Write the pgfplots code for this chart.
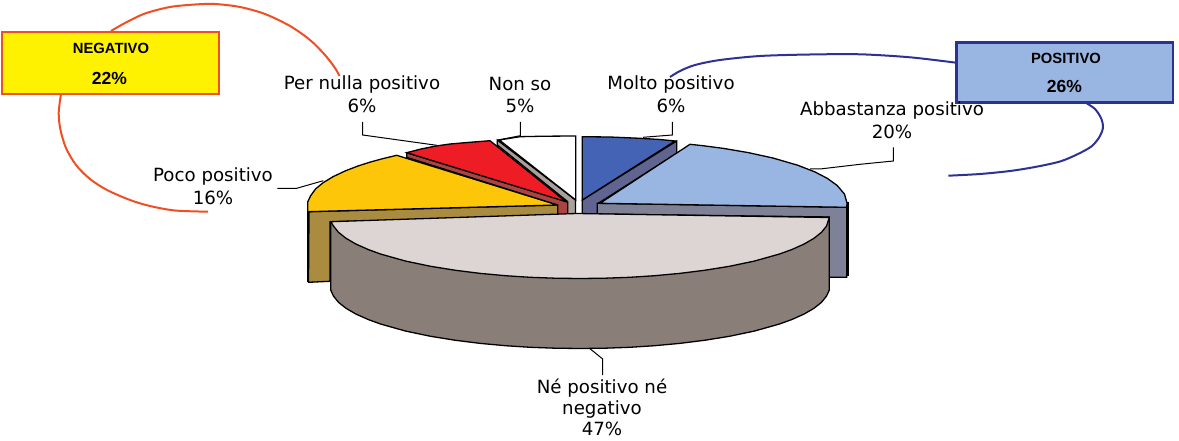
\documentclass[border=0pt]{standalone}
\usepackage{fontspec}
\setmainfont{DejaVu Sans}
\newfontfamily\boxfont{Liberation Sans}[BoldFont={Liberation Sans Bold}]
\usepackage{pgfplots}
\pgfplotsset{compat=1.18}
\definecolor{yt}{HTML}{FDC608}
\definecolor{yw}{HTML}{AA8C41}
\definecolor{rt}{HTML}{EE1C25}
\definecolor{rw}{HTML}{A94442}
\definecolor{gw}{HTML}{A9A19C}
\definecolor{bt}{HTML}{4563B5}
\definecolor{bw}{HTML}{5F6490}
\definecolor{lt}{HTML}{99B5E1}
\definecolor{lw}{HTML}{7F8296}
\definecolor{nt}{HTML}{DDD5D3}
\definecolor{nw}{HTML}{8A7E79}
\definecolor{ob}{HTML}{F04E23}
\definecolor{db}{HTML}{2E3192}
\definecolor{by}{HTML}{FFF200}
\newcommand{\lab}[3]{\node[font=\fontsize{18.2}{20}\selectfont,inner sep=0pt,text=black] at (axis cs:#1,#2) {#3};}
\begin{document}
\begin{tikzpicture}
\begin{axis}[scale only axis,width=1179pt,height=441pt,xmin=0,xmax=1179,ymin=0,ymax=441,y dir=reverse,hide axis,clip=false]
\addplot[draw=none,no marks,forget plot] coordinates {(0,0) (1179,441)};
% callout curves
\addplot[ob,line width=2pt,smooth,no marks] coordinates {(111,31) (125,23) (145,13.5) (170,7) (195,4.5) (215,4) (240,7) (265,14) (290,26) (310,40) (325,55) (335,68) (339.5,76)};
\addplot[ob,line width=2pt,smooth,no marks] coordinates {(61,94) (58.7,113) (60.5,130) (66,148) (76,165) (90,179) (107,190) (130,200) (150,206) (175,210.5) (208,211.7)};
\addplot[db,line width=2pt,smooth,no marks] coordinates {(670,77) (680,71) (695,65) (720,60) (760,56) (810,54.5) (860,54.3) (910,57.3) (956,62.7)};
\addplot[db,line width=2pt,smooth,no marks] coordinates {(1086.7,103.3) (1095,109) (1101,118) (1103,127) (1100,136) (1092,146) (1078,154) (1060,161.5) (1035,167) (1010,171) (980,174) (948.3,175.7)};
% leaders
\addplot[black,line width=1pt,no marks] coordinates {(362.7,122) (362.7,135) (436.7,145.3)};
\addplot[black,line width=1pt,no marks] coordinates {(520.3,122) (520.3,135.7) (498,140)};
\addplot[black,line width=1pt,no marks] coordinates {(672.3,122) (672.3,135) (643,137.3)};
\addplot[black,line width=1pt,no marks] coordinates {(893.3,147.3) (893.3,161) (860,164.3) (820,169) (810,169)};
\addplot[black,line width=1pt,no marks] coordinates {(277.3,188.3) (296.7,188.3) (323.3,180.7)};
\addplot[black,line width=1pt,no marks] coordinates {(590,348.7) (602.7,359) (602.7,375)};
% Poco positivo
\addplot[fill=yw,draw=black,line width=1.3pt,no marks] coordinates {(309,211.7) (557.7,205) (557.7,216) (330,222) (330,281.3) (308.5,282.3)} -- cycle;
\addplot[black,line width=2.5pt,no marks] coordinates {(308.2,211) (308.2,282)};
\addplot[fill=yt,draw=black,line width=1.3pt,no marks] coordinates {(557.7,205) (307.7,211.7) (307.7,202) (310.5,196) (315.5,189) (323,182.8) (333,176.7) (345.5,170.8) (358,166) (370.5,162) (383,158.6) (396.7,155.3)} -- cycle;
% Per nulla positivo
\addplot[fill=rw,draw=black,line width=1.3pt,no marks] coordinates {(406.7,152.7) (406.7,157.3) (557.7,205) (557.7,215) (567.7,215) (567.7,201.7)} -- cycle;
\addplot[fill=rt,draw=black,line width=1.3pt,no marks] coordinates {(406.7,152.7) (421,149) (436,146) (450,144) (465,142.7) (490,140.7) (566,201.7)} -- cycle;
% Non so
\addplot[fill=gw,draw=black,line width=1.3pt,no marks] coordinates {(497.3,140) (497.3,145) (567.7,201.7) (567.7,214.3) (575.5,214.3) (575.5,200)} -- cycle;
\addplot[fill=white,draw=black,line width=1.3pt,no marks] coordinates {(499.3,140) (520,136.7) (545,136.2) (575.7,136) (575.7,200)} -- cycle;
% Molto positivo
\addplot[fill=bw,draw=black,line width=1.3pt,no marks] coordinates {(582.3,200) (676.7,141) (676.7,153.3) (598.3,203.3) (597.3,214.3) (582.3,214.3)} -- cycle;
\addplot[fill=bt,draw=black,line width=1.3pt,no marks] coordinates {(582.3,136.7) (610,137) (640,138.3) (660,139.5) (675,141) (582.3,200)} -- cycle;
% Abbastanza positivo
\addplot[black,line width=2.5pt,no marks] coordinates {(848,201.7) (848,276)};
\addplot[fill=lw,draw=black,line width=1.3pt,no marks] coordinates {(597.3,203.3) (846.7,207.3) (846.7,277.3) (829.3,277.3) (829.3,217) (597.3,214)} -- cycle;
\addplot[fill=lt,draw=black,line width=1.3pt,no marks] coordinates {(600,203.3) (690,144.3) (703.7,145.8) (723.5,148.4) (748.2,152.6) (772.9,158) (797.6,165.2) (814.9,171.9) (827.2,178.3) (837.1,185.4) (844.5,194.1) (847,203) (846.7,207.3)} -- cycle;
% Ne positivo ne negativo
\addplot[fill=nw,draw=black,line width=1.3pt,no marks] coordinates {(330.7,221.7) (330.7,290) (333.5,296.1) (338.5,302.3) (346,308.3) (356,314.1) (368.4,319.6) (380.8,324.1) (405.7,331.1) (430.6,336.3) (455.5,340.3) (480.4,343.4) (505.3,345.7) (530.2,347.3) (555.1,348.2) (580,348.5) (604.9,348.2) (629.8,347.3) (654.7,345.7) (679.6,343.4) (704.5,340.3) (729.4,336.3) (754.3,331.1) (779.2,324.1) (791.7,319.6) (804,314.1) (814,308.3) (821.5,302.3) (826.5,296.1) (829.3,290) (829.3,217.3)} -- cycle;
\addplot[fill=nt,draw=black,line width=1.3pt,no marks] coordinates {(330.7,221.7) (576.7,213.5) (829.3,217.5) (826.5,226.1) (821.5,232.3) (814,238.3) (804,244.1) (791.7,249.6) (779.2,254.1) (754.3,261.1) (729.4,266.3) (704.5,270.3) (679.6,273.4) (654.7,275.7) (629.8,277.3) (604.9,278.2) (580,278.5) (555.1,278.2) (530.2,277.3) (505.3,275.7) (480.4,273.4) (455.5,270.3) (430.6,266.3) (405.7,261.1) (380.8,254.1) (368.4,249.6) (356,244.1) (346,238.3) (338.5,232.3) (333.5,226.1)} -- cycle;
% boxes
\addplot[fill=by,draw=ob,line width=2.4pt,no marks] coordinates {(2,32) (219,32) (219,94) (2,94)} -- cycle;
\addplot[fill=lt,draw=db,line width=2.4pt,no marks] coordinates {(956.5,42.5) (1173,42.5) (1173,102.5) (956.5,102.5)} -- cycle;
\node[font=\boxfont\bfseries\fontsize{14.8}{16}\selectfont,inner sep=0pt] at (axis cs:111,48.5) {NEGATIVO};
\node[font=\boxfont\bfseries\fontsize{17.5}{19}\selectfont,inner sep=0pt] at (axis cs:109.5,78) {22\%};
\node[font=\boxfont\bfseries\fontsize{14.8}{16}\selectfont,inner sep=0pt] at (axis cs:1066,58) {POSITIVO};
\node[font=\boxfont\bfseries\fontsize{17.5}{19}\selectfont,inner sep=0pt] at (axis cs:1064.5,86.5) {26\%};
% labels
\lab{362}{84}{Per nulla positivo}
\lab{362}{106}{6\%}
\lab{520}{84}{Non so}
\lab{520}{106}{5\%}
\lab{671}{84}{Molto positivo}
\lab{671}{106}{6\%}
\lab{892}{110}{Abbastanza positivo}
\lab{892}{132}{20\%}
\lab{213}{176}{Poco positivo}
\lab{213}{198}{16\%}
\lab{602}{388}{Né positivo né}
\lab{602}{409}{negativo}
\lab{602}{429}{47\%}
\end{axis}
\end{tikzpicture}
\end{document}
